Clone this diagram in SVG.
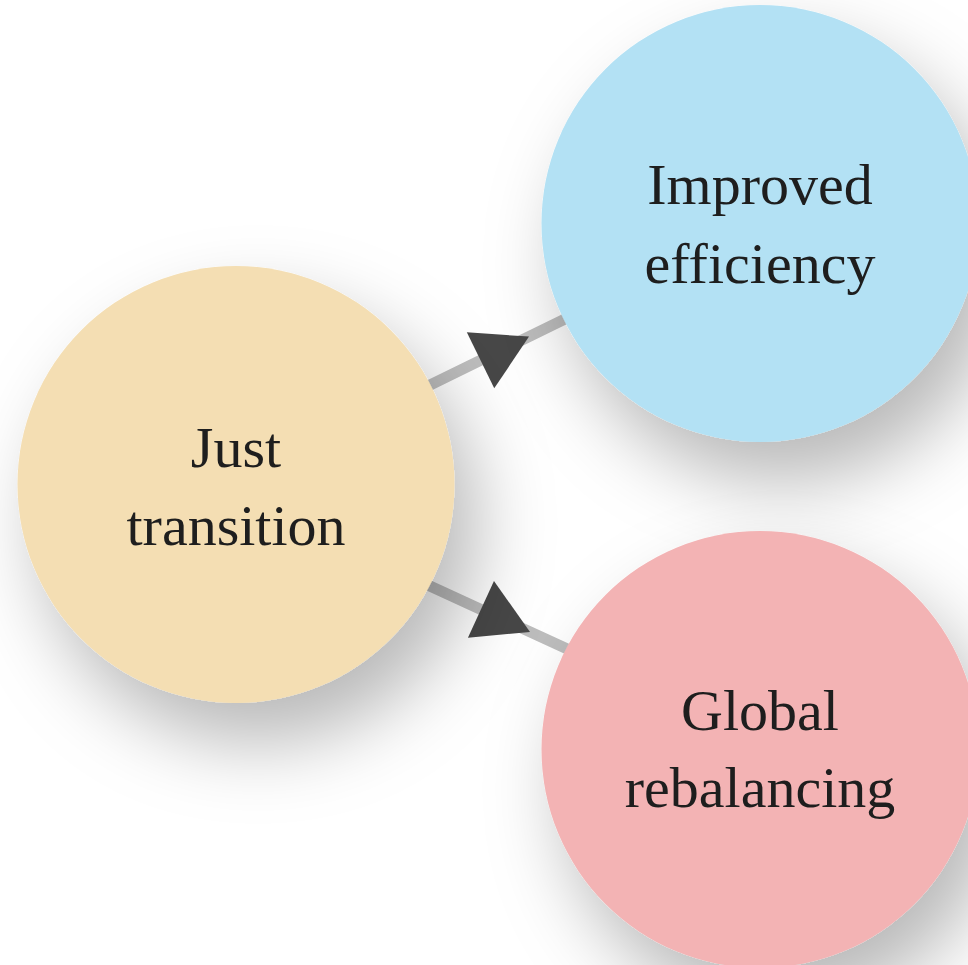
<svg xmlns="http://www.w3.org/2000/svg" width="968" height="965" viewBox="0 0 968 965">
  <style>
    .conn { stroke: #bdbdbd; stroke-width: 11; fill: none; marker-mid: url(#tri); }
    .node-label { font-family: "Liberation Serif", "Times New Roman", serif; font-size: 58px; fill: #1e1e1e; text-anchor: middle; }
    .node { filter: url(#shadow); }
  </style>
  <defs>
    <filter id="shadow" x="-50%" y="-50%" width="210%" height="210%">
      <feDropShadow dx="22" dy="40" stdDeviation="38" flood-color="#000" flood-opacity="0.28"/>
    </filter>
    <marker id="tri" markerUnits="userSpaceOnUse" viewBox="-40 -40 80 80" refX="0" refY="0" markerWidth="80" markerHeight="80" orient="auto" overflow="visible">
      <path d="M36,0 L-18,31.2 L-18,-31.2 Z" fill="#474747"/>
    </marker>
  </defs>
  <rect width="968" height="965" fill="#ffffff"/>
  <g id="connectors">
    <path class="conn" d="M400,399.7 L496.7,352.4 L600,301.9"/>
    <path class="conn" d="M400,572.2 L497.3,616.9 L600,664"/>
  </g>
  <g id="node-just-transition">
    <circle class="node" cx="236" cy="484.5" r="218.5" fill="#f4deb3"/>
    <text class="node-label" x="236" y="467">Just</text>
    <text class="node-label" x="236" y="545">transition</text>
  </g>
  <g id="node-improved-efficiency">
    <circle class="node" cx="760" cy="223.5" r="218.5" fill="#b3e1f4"/>
    <text class="node-label" x="760" y="204">Improved</text>
    <text class="node-label" x="760" y="283">efficiency</text>
  </g>
  <g id="node-global-rebalancing">
    <circle class="node" cx="760" cy="749.5" r="218.5" fill="#f3b3b4"/>
    <text class="node-label" x="760" y="730">Global</text>
    <text class="node-label" x="760" y="807">rebalancing</text>
  </g>
</svg>
